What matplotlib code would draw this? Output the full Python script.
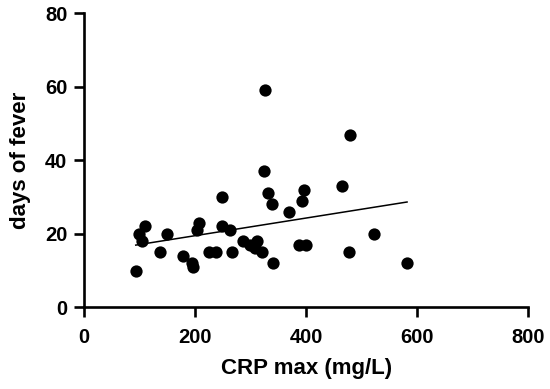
import matplotlib.pyplot as plt
import numpy as np

plt.rcParams['font.family'] = ['Liberation Sans', 'DejaVu Sans']
plt.rcParams['font.weight'] = 'bold'

# CRP max (mg/L) vs days of fever
crp = [93, 98, 104, 110, 137, 149, 178, 195, 197, 204, 207, 225, 237, 249, 249,
       263, 267, 286, 299, 311, 308, 320, 326, 325, 331, 338, 340, 370, 388, 400,
       393, 397, 465, 479, 478, 522, 582]
fever = [10, 20, 18, 22, 15, 20, 14, 12, 11, 21, 23, 15, 15, 30, 22,
         21, 15, 18, 17, 18, 16, 15, 59, 37, 31, 28, 12, 26, 17, 17,
         29, 32, 33, 47, 15, 20, 12]

x_ticks = [0, 200, 400, 600, 800]
y_ticks = [0, 20, 40, 60, 80]

fig = plt.figure(figsize=(5.5, 3.89), dpi=100)
ax = fig.add_axes([0.153, 0.21, 0.807, 0.756])

ax.scatter(crp, fever, s=78, color='black', zorder=3, linewidths=0)

# linear fit over the data range
slope, intercept = np.polyfit(crp, fever, 1)
xs = np.array([min(crp), max(crp)])
ax.plot(xs, slope * xs + intercept, color='black', lw=1.1)

ax.set_xlim(0, 800)
ax.set_ylim(0, 80)
ax.set_xticks(x_ticks)
ax.set_yticks(y_ticks)
ax.set_xlabel('CRP max (mg/L)', fontsize=16, fontweight='bold', labelpad=8)
ax.set_ylabel('days of fever', fontsize=16, fontweight='bold', labelpad=10)

for side in ['top', 'right']:
    ax.spines[side].set_visible(False)
for side in ['left', 'bottom']:
    ax.spines[side].set_linewidth(1.9)
ax.tick_params(width=1.9, length=7, labelsize=14.5)
ax.tick_params(axis='x', pad=8)
ax.tick_params(axis='y', pad=5)
for lbl in ax.get_xticklabels() + ax.get_yticklabels():
    lbl.set_fontweight('bold')

fig.savefig('out.png', dpi=100)
